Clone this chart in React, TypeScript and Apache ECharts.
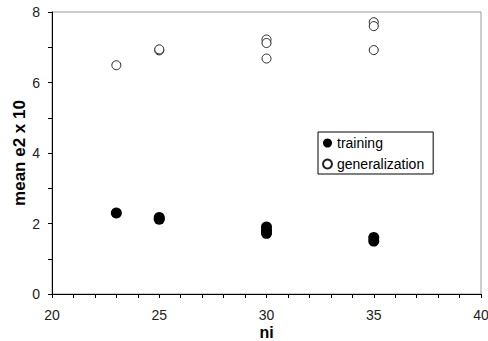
import React, { useEffect, useRef } from "react";
import * as echarts from "echarts";

const trainingX = [23, 25, 25, 30, 30, 30, 35, 35];
const trainingY = [2.3, 2.12, 2.17, 1.9, 1.8, 1.72, 1.6, 1.5];
const generalizationX = [23, 25, 25, 30, 30, 30, 35, 35, 35];
const generalizationY = [6.49, 6.91, 6.94, 7.22, 7.12, 6.68, 7.71, 7.6, 6.92];
const seriesNames = ["training", "generalization"];

export default function App() {
  const ref = useRef<HTMLDivElement>(null);
  useEffect(() => {
    const chart = echarts.init(ref.current!, null, { renderer: "svg" });
    const font = "Liberation Sans, Arial, sans-serif";
    chart.setOption({
      animation: false,
      backgroundColor: "#fff",
      grid: {
        left: 52,
        right: 7,
        top: 12,
        bottom: 47,
        show: true,
        borderColor: "#999",
        borderWidth: 1,
        containLabel: false,
        outerBoundsMode: "none",
      },
      xAxis: {
        type: "value",
        min: 20,
        max: 40,
        interval: 5,
        name: "ni",
        nameLocation: "middle",
        nameGap: 30,
        nameMoveOverlap: false,
        nameTextStyle: { fontFamily: font, fontSize: 16, fontWeight: "bold", color: "#000" },
        axisLine: { show: true, lineStyle: { color: "#000", width: 1 } },
        axisTick: { show: true, inside: false, length: 4, lineStyle: { color: "#000" } },
        minorTick: { show: true, splitNumber: 5, length: 4, lineStyle: { color: "#000" } },
        splitLine: { show: false },
        axisLabel: { fontFamily: font, fontSize: 14, color: "#222", margin: 14 },
      },
      yAxis: {
        type: "value",
        min: 0,
        max: 8,
        interval: 2,
        name: "mean e2 x 10",
        nameLocation: "middle",
        nameGap: 24,
        nameMoveOverlap: false,
        nameTextStyle: { fontFamily: font, fontSize: 17, fontWeight: "bold", color: "#000" },
        axisLine: { show: true, lineStyle: { color: "#000", width: 1 } },
        axisTick: { show: true, inside: false, length: 4, lineStyle: { color: "#000" } },
        minorTick: { show: true, splitNumber: 2, length: 4, lineStyle: { color: "#000" } },
        splitLine: { show: false },
        axisLabel: { fontFamily: font, fontSize: 14, color: "#222", margin: 12 },
      },
      legend: {
        orient: "vertical",
        left: 318,
        top: 132,
        padding: [4, 9, 3, 4],
        itemGap: 7,
        itemWidth: 9,
        itemHeight: 9,
        borderColor: "#000",
        borderWidth: 1,
        backgroundColor: "#fff",
        textStyle: { fontFamily: font, fontSize: 14, color: "#000" },
        data: [
          { name: seriesNames[0], icon: "circle" },
          { name: seriesNames[1], icon: "circle" },
        ],
      },
      series: [
        {
          name: seriesNames[0],
          type: "scatter",
          symbol: "circle",
          symbolSize: 11,
          itemStyle: { color: "#000", opacity: 1 },
          data: trainingX.map((x, i) => [x, trainingY[i]]),
        },
        {
          name: seriesNames[1],
          type: "scatter",
          symbol: "circle",
          symbolSize: 9,
          itemStyle: { color: "#fff", borderColor: "#222", borderWidth: 1, opacity: 1 },
          data: generalizationX.map((x, i) => [x, generalizationY[i]]),
        },
      ],
    });
    return () => chart.dispose();
  }, []);
  return <div ref={ref} style={{ width: 488, height: 341, position: "absolute", left: 0, top: 0 }} />;
}
